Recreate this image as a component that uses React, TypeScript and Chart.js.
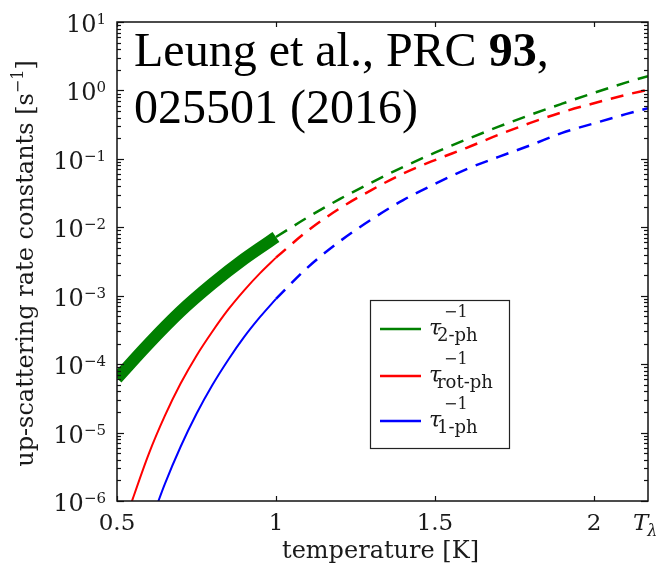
import React, { useEffect, useRef } from "react";
import { Chart, registerables } from "chart.js";

Chart.register(...registerables);

// ---- data ----
const temps2phSolid = [0.5, 0.6, 0.7, 0.8, 0.9, 1.0];
const rates2phSolid = [6.2e-5, 2.0e-4, 5.9e-4, 1.5e-3, 3.45e-3, 7.2e-3];
const tempsRotSolid = [0.54, 0.55, 0.6, 0.65, 0.7, 0.75, 0.8, 0.85, 0.9, 0.95, 1.0];
const ratesRotSolid = [7.9e-7, 1.09e-6, 4.9e-6, 1.74e-5, 5.2e-5, 1.33e-4, 3.0e-4, 6.3e-4, 1.2e-3, 2.14e-3, 3.6e-3];
const tempsOneSolid = [0.62, 0.65, 0.7, 0.75, 0.8, 0.85, 0.9, 0.95, 1.0];
const ratesOneSolid = [7.4e-7, 1.75e-6, 6.2e-6, 1.88e-5, 4.95e-5, 1.16e-4, 2.5e-4, 4.9e-4, 9.0e-4];
const tempsDashed = [1.0, 1.1, 1.2, 1.3, 1.4, 1.5, 1.6, 1.7, 1.8, 1.9, 2.0, 2.1, 2.17];
const rates2phDashed = [7.2e-3, 1.4e-2, 2.58e-2, 4.5e-2, 7.6e-2, 0.123, 0.193, 0.295, 0.44, 0.64, 0.92, 1.3, 1.62];
const ratesRotDashed = [3.6e-3, 8.9e-3, 1.88e-2, 3.5e-2, 6.1e-2, 9.6e-2, 0.145, 0.225, 0.335, 0.48, 0.65, 0.86, 1.02];
const ratesOneDashed = [9.0e-4, 2.6e-3, 6.2e-3, 1.3e-2, 2.5e-2, 4.3e-2, 0.071, 0.107, 0.158, 0.24, 0.33, 0.45, 0.55];

const xTickValues = [0.5, 1, 1.5, 2];
const xTickLabels = ["0.5", "1", "1.5", "2"];
const T_LAMBDA = 2.17;
const yTickExponents = [-6, -5, -4, -3, -2, -1, 0, 1];
const legendSubs = ["2-ph", "rot-ph", "1-ph"];
const seriesColors = ["#008000", "#ff0000", "#0000ff"];
const xTitle = "temperature [K]";
const yTitleMain = "up-scattering rate constants [s";
const annotationLine1 = "Leung et al., PRC ";
const annotationBold = "93";
const annotationLine2 = "025501 (2016)";

const pts = (xs: number[], ys: number[]) => xs.map((x, i) => ({ x, y: ys[i] }));

const SERIF = "'DejaVu Serif', serif";
const MINUS = "\u2212";

const decorPlugin = {
  id: "decor",
  afterDraw(chart: any) {
    const ctx: CanvasRenderingContext2D = chart.ctx;
    const xs = chart.scales.x;
    const ys = chart.scales.y;
    const { left, right, top, bottom } = chart.chartArea;
    const line = (x1: number, y1: number, x2: number, y2: number) => {
      ctx.beginPath();
      ctx.moveTo(x1, y1);
      ctx.lineTo(x2, y2);
      ctx.stroke();
    };
    ctx.save();
    ctx.strokeStyle = "#111";
    ctx.fillStyle = "#1a1a1a";

    // ticks (inward)
    ctx.lineWidth = 1.2;
    for (const v of xTickValues) {
      const px = Math.round(xs.getPixelForValue(v)) + 0.5;
      line(px, bottom, px, bottom - 5);
      line(px, top, px, top + 5);
    }
    const eMin = yTickExponents[0];
    const eMax = yTickExponents[yTickExponents.length - 1];
    for (let e = eMin; e <= eMax; e++) {
      for (let k = 1; k <= 9; k++) {
        if (e === eMax && k > 1) break;
        const v = k * Math.pow(10, e);
        const py = Math.round(ys.getPixelForValue(v)) + 0.5;
        const len = k === 1 ? 7 : 4;
        line(left, py, left + len, py);
        line(right, py, right - len, py);
      }
    }

    // frame
    ctx.lineWidth = 1.5;
    ctx.strokeRect(left, top, right - left, bottom - top);

    // x tick labels
    ctx.textBaseline = "alphabetic";
    ctx.textAlign = "center";
    ctx.font = `23px ${SERIF}`;
    xTickValues.forEach((v, i) => {
      ctx.fillText(xTickLabels[i], xs.getPixelForValue(v), 530);
    });
    // T_lambda label
    ctx.textAlign = "left";
    const pxL = xs.getPixelForValue(T_LAMBDA);
    ctx.font = `italic 23px ${SERIF}`;
    const tW = ctx.measureText("T").width;
    ctx.fillText("T", pxL - 15, 530);
    ctx.font = `italic 16px ${SERIF}`;
    ctx.fillText("\u03bb", pxL - 15 + tW - 1, 536);

    // y tick labels
    ctx.textAlign = "left";
    for (const e of yTickExponents) {
      const py = ys.getPixelForValue(Math.pow(10, e));
      const expStr = e < 0 ? MINUS + String(-e) : String(e);
      ctx.font = `15px ${SERIF}`;
      const expW = ctx.measureText(expStr).width;
      ctx.font = `24px ${SERIF}`;
      const baseW = ctx.measureText("10").width;
      const rightEdge = 106;
      ctx.fillText("10", rightEdge - expW - baseW, py + 10);
      ctx.font = `15px ${SERIF}`;
      ctx.fillText(expStr, rightEdge - expW, py + 2);
    }

    // x title
    ctx.textAlign = "center";
    ctx.font = `24px ${SERIF}`;
    ctx.fillText(xTitle, (left + right) / 2 - 2, 558);

    // y title (rotated)
    ctx.save();
    ctx.translate(33, (top + bottom) / 2 + 2);
    ctx.rotate(-Math.PI / 2);
    ctx.textAlign = "left";
    ctx.font = `24px ${SERIF}`;
    const mW = ctx.measureText(yTitleMain).width;
    const brW = ctx.measureText("]").width;
    ctx.font = `16px ${SERIF}`;
    const supStr = MINUS + "1";
    const sW = ctx.measureText(supStr).width;
    const total = mW + sW + brW;
    let x0 = -total / 2;
    ctx.font = `24px ${SERIF}`;
    ctx.fillText(yTitleMain, x0, 0);
    ctx.font = `16px ${SERIF}`;
    ctx.fillText(supStr, x0 + mW, -10);
    ctx.font = `24px ${SERIF}`;
    ctx.fillText("]", x0 + mW + sW, 0);
    ctx.restore();

    // annotation text
    ctx.fillStyle = "#000";
    ctx.textAlign = "left";
    ctx.font = `48px 'Liberation Serif', serif`;
    const a1W = ctx.measureText(annotationLine1).width;
    ctx.fillText(annotationLine1, 134, 66);
    ctx.font = `bold 48px 'Liberation Serif', serif`;
    const bW = ctx.measureText(annotationBold).width;
    ctx.fillText(annotationBold, 134 + a1W, 66);
    ctx.font = `48px 'Liberation Serif', serif`;
    ctx.fillText(",", 134 + a1W + bW, 66);
    ctx.fillText(annotationLine2, 134, 123);

    // legend
    const bx = 370.5, by = 300.5, bw = 139, bh = 148;
    ctx.fillStyle = "#fff";
    ctx.fillRect(bx, by, bw, bh);
    ctx.strokeStyle = "#222";
    ctx.lineWidth = 1.2;
    ctx.strokeRect(bx, by, bw, bh);
    const rowY = [329, 376, 421];
    legendSubs.forEach((sub, i) => {
      const y = rowY[i];
      ctx.strokeStyle = seriesColors[i];
      ctx.lineWidth = 2.5;
      line(380, y, 421, y);
      ctx.fillStyle = "#1a1a1a";
      ctx.font = `italic 22px ${SERIF}`;
      ctx.fillText("\u03c4", 429, y + 6);
      ctx.font = `16px ${SERIF}`;
      ctx.fillText(MINUS + "1", 444, y - 12);
      ctx.font = `18px ${SERIF}`;
      ctx.fillText(sub, 437, y + 12);
    });

    ctx.restore();
  },
};

export default function App() {
  const canvasRef = useRef<HTMLCanvasElement | null>(null);

  useEffect(() => {
    if (!canvasRef.current) return;
    const common = { pointRadius: 0, cubicInterpolationMode: "monotone" as const, fill: false };
    const chart = new Chart(canvasRef.current, {
      type: "line",
      data: {
        datasets: [
          { ...common, data: pts(temps2phSolid, rates2phSolid), borderColor: seriesColors[0], borderWidth: 12, borderCapStyle: "butt" },
          { ...common, data: pts(tempsDashed, rates2phDashed), borderColor: seriesColors[0], borderWidth: 2.5, borderDash: [13, 9] },
          { ...common, data: pts(tempsRotSolid, ratesRotSolid), borderColor: seriesColors[1], borderWidth: 2 },
          { ...common, data: pts(tempsDashed, ratesRotDashed), borderColor: seriesColors[1], borderWidth: 2.5, borderDash: [13, 9] },
          { ...common, data: pts(tempsOneSolid, ratesOneSolid), borderColor: seriesColors[2], borderWidth: 2 },
          { ...common, data: pts(tempsDashed, ratesOneDashed), borderColor: seriesColors[2], borderWidth: 2.5, borderDash: [13, 9] },
        ],
      },
      options: {
        responsive: false,
        animation: false,
        layout: { padding: { top: 22, right: 14, left: 0, bottom: 0 } },
        plugins: { legend: { display: false }, tooltip: { enabled: false } },
        scales: {
          x: {
            type: "linear",
            min: 0.5,
            max: T_LAMBDA,
            grid: { display: false },
            border: { display: false },
            ticks: { display: false },
            afterFit: (s: any) => { s.height = 64; },
          },
          y: {
            type: "logarithmic",
            min: 1e-6,
            max: 10,
            grid: { display: false },
            border: { display: false },
            ticks: { display: false },
            afterFit: (s: any) => { s.width = 117; },
          },
        },
      },
      plugins: [decorPlugin],
    } as any);
    return () => chart.destroy();
  }, []);

  return (
    <div style={{ position: "fixed", left: 0, top: 0, width: 662, height: 565, background: "#fff" }}>
      <canvas ref={canvasRef} width={662} height={565} style={{ display: "block" }} />
    </div>
  );
}
